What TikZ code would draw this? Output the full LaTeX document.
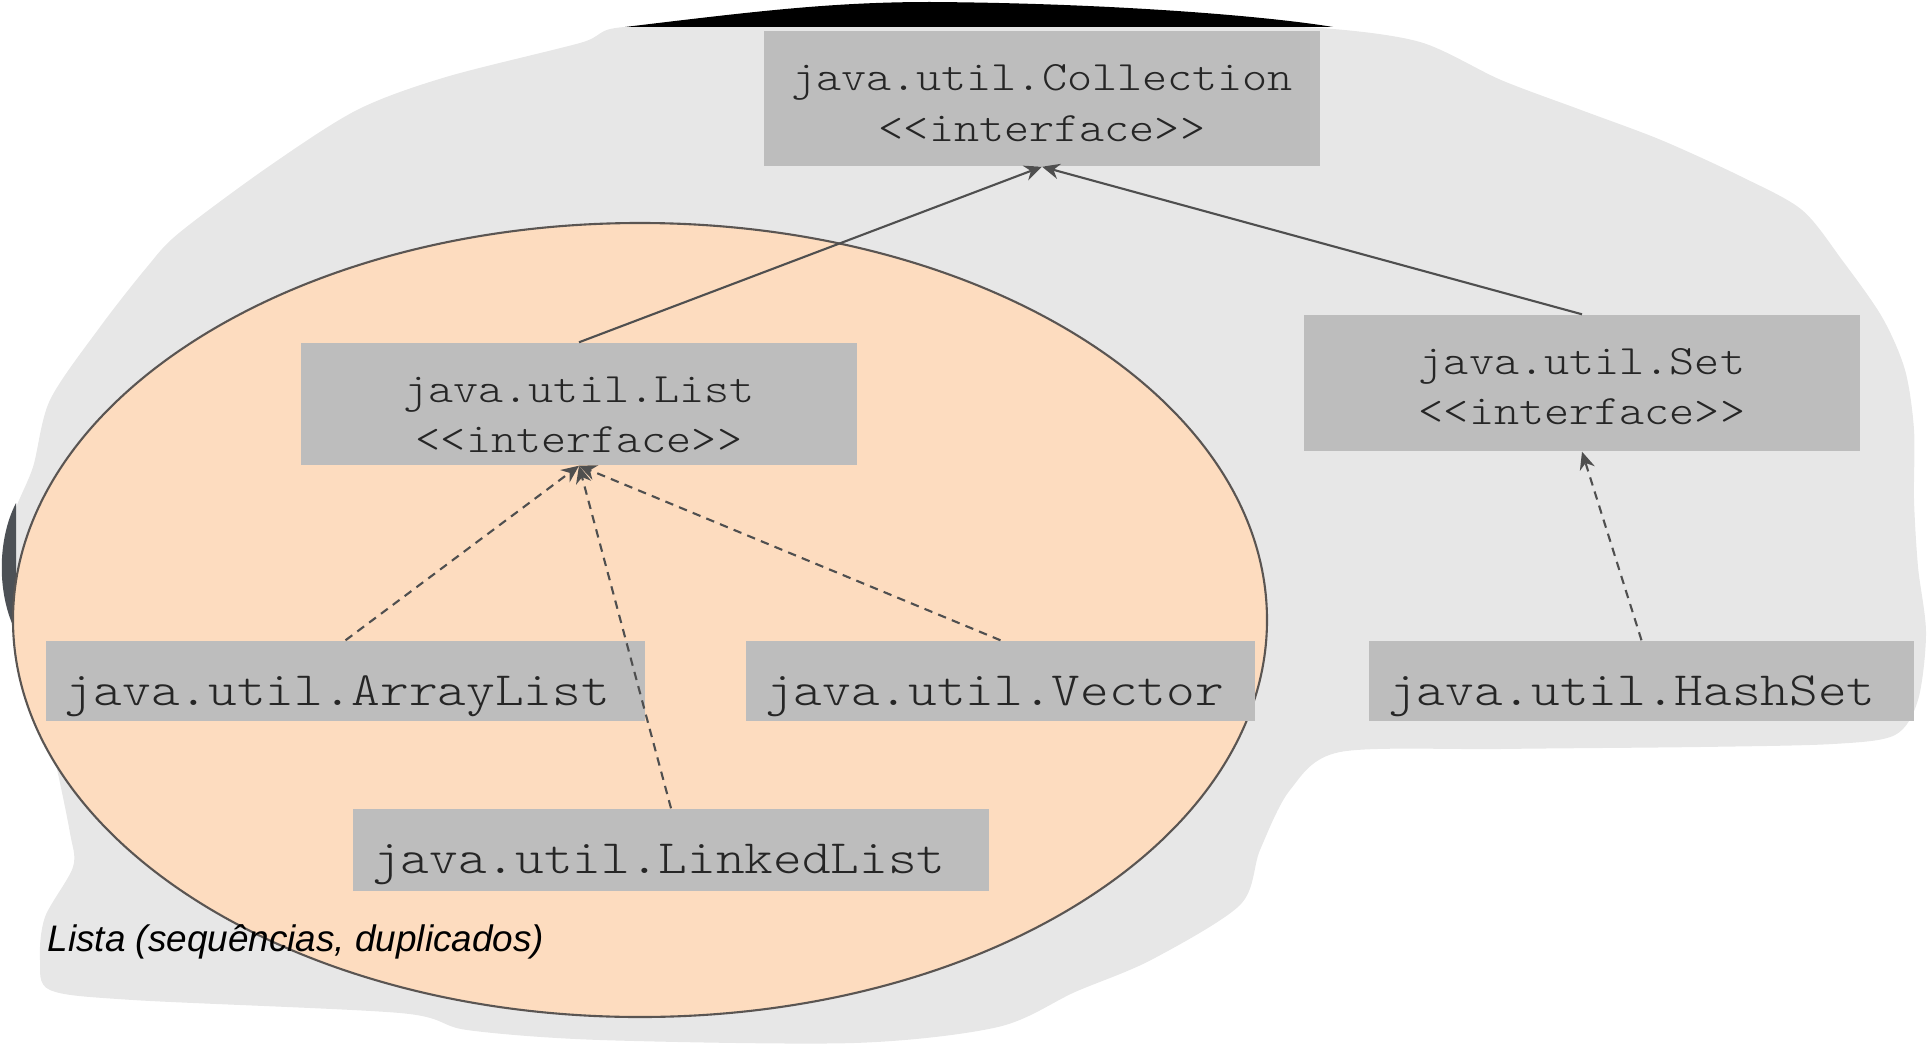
\documentclass[tikz,border=0pt]{standalone}
\usepackage{fontspec}
\setmainfont{Liberation Serif}
\setsansfont{Liberation Sans}
\newfontfamily\javafont[FakeStretch=1.143]{lmmonolt10-regular.otf}
\usetikzlibrary{arrows.meta}
\definecolor{blobgray}{HTML}{E7E7E7}
\definecolor{boxgray}{HTML}{BDBDBD}
\definecolor{peach}{HTML}{FDDCBF}
\definecolor{edgegray}{HTML}{5A5552}
\definecolor{linegray}{HTML}{4F4F4F}
\definecolor{txtgray}{HTML}{262626}
\definecolor{shadowgray}{HTML}{4D5156}

\begin{document}
\begin{tikzpicture}[x=1cm,y=1cm,
  ifacebox/.style={fill=boxgray,inner xsep=0pt,inner ysep=0pt,text width=5.56cm,align=center,
    text=txtgray,font=\javafont\fontsize{11.9}{14.5}\selectfont},
  classbox/.style={fill=boxgray,inner xsep=0.19cm,inner ysep=0pt,text height=0.645cm,text depth=0.155cm,
    text width=#1,align=left,text=txtgray,font=\javafont\fontsize{13.6}{16}\selectfont},
  extends/.style={draw=linegray,line width=0.6pt,-{Stealth[length=5pt,width=4.4pt]}},
  implements/.style={extends,dash pattern=on 2.4pt off 1.8pt}]
\useasboundingbox (0,0) rectangle (19.29,-10.48);
\fill[blobgray] plot[smooth cycle,tension=0.5] coordinates {
  (6.25,-0.27) (8.00,-0.27) (10.00,-0.27) (12.00,-0.27) (13.20,-0.28) (14.20,-0.42)
  (15.01,-0.80) (15.81,-1.10) (16.61,-1.40) (17.42,-1.77) (18.02,-2.10) (18.42,-2.60)
  (18.82,-3.17) (19.05,-3.70) (19.14,-4.30) (19.14,-5.00) (19.18,-5.67) (19.26,-6.33)
  (19.18,-7.00) (18.95,-7.35) (18.33,-7.44) (17.00,-7.47) (15.00,-7.49) (13.40,-7.52)
  (12.90,-7.90) (12.60,-8.50) (12.40,-9.05) (11.51,-9.60) (10.75,-9.92) (9.98,-10.27)
  (8.54,-10.43) (6.00,-10.40) (4.67,-10.30) (4.00,-10.13) (1.33,-10.00) (0.50,-9.90)
  (0.40,-9.60) (0.45,-9.17) (0.73,-8.67) (0.70,-8.33) (0.55,-7.60) (0.40,-7.00)
  (0.25,-6.40) (0.13,-5.60) (0.13,-5.17) (0.33,-4.67) (0.50,-4.00) (1.00,-3.27)
  (1.47,-2.67) (1.79,-2.33) (2.68,-1.67) (3.57,-1.10) (4.46,-0.77) (5.80,-0.43)};
\fill[black] (6.25,-0.27) .. controls (7.50,-0.12) and (8.30,-0.02) .. (9.30,-0.02)
  .. controls (11.00,-0.03) and (12.60,-0.15) .. (13.33,-0.27) -- cycle;
\fill[shadowgray] (0.16,-5.03) .. controls (-0.03,-5.40) and (-0.03,-5.95) .. (0.16,-6.32) -- cycle;
\draw[edgegray,fill=peach,line width=0.6pt] (6.40,-6.20) ellipse (6.27 and 3.97);

\node[ifacebox,text height=0.595cm,text depth=0.755cm] (coll) at (10.42,-0.985) {java.util.Collection\\<{}<interface>{}>};
\node[ifacebox,text height=0.59cm,text depth=0.63cm] (list) at (5.79,-4.04) {java.util.List\\<{}<interface>{}>};
\node[ifacebox,text height=0.59cm,text depth=0.77cm] (set) at (15.82,-3.83) {java.util.Set\\<{}<interface>{}>};
\node[classbox=5.61cm] (arraylist) at (3.455,-6.81) {java.util.ArrayList};
\node[classbox=4.71cm] (vector) at (10.005,-6.81) {java.util.Vector};
\node[classbox=5.07cm] (hashset) at (16.415,-6.81) {java.util.HashSet};
\node[classbox=5.98cm,text height=0.645cm,text depth=0.175cm] (linkedlist) at (6.71,-8.50) {java.util.LinkedList};
\node[anchor=west,inner sep=0pt,font=\sffamily\itshape\fontsize{10.5}{12}\selectfont] (lbl)
  at (0.47,-9.42) {Lista (sequências, duplicados)};

\draw[extends] (list.north) -- (coll.south);
\draw[extends] (set.north) -- (coll.south);
\draw[implements] (arraylist.north) -- (list.south);
\draw[implements] (linkedlist.north) -- (list.south);
\draw[implements] (vector.north) -- (list.south);
\draw[implements] (hashset.north) -- (set.south);
\end{tikzpicture}
\end{document}
